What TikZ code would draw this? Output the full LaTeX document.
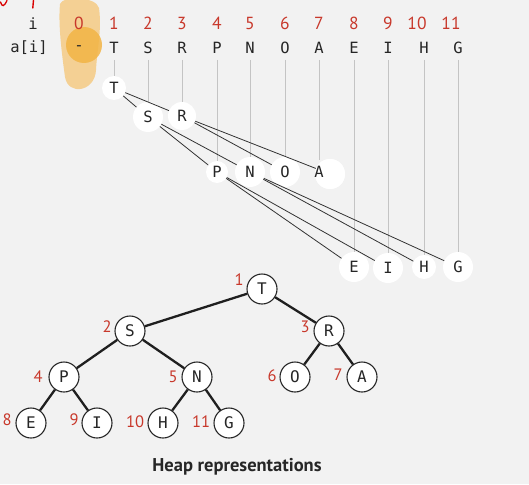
\documentclass[tikz,border=0pt]{standalone}
\usepackage{fontspec}
\setmainfont{PT Sans}
\setmonofont{DejaVu Sans Mono}
\newfontfamily\idxfont{PT Sans}
\definecolor{bg}{HTML}{F2F2F2}
\definecolor{idx}{HTML}{C8382B}
\definecolor{guide}{HTML}{C4C4C4}
\definecolor{link}{HTML}{333333}
\definecolor{hlA}{HTML}{F5CD8A}
\definecolor{hlB}{HTML}{F2B445}
\tikzset{
  mono/.style={font=\ttfamily\fontsize{15.5}{16}\selectfont, text=black!85, inner sep=0pt},
  idxtop/.style={font=\idxfont\fontsize{17.5}{18}\selectfont, text=idx, inner sep=0pt},
  wnode/.style={circle, fill=white, inner sep=0pt, font=\ttfamily\fontsize{15.5}{16}\selectfont, text=black!85},
  guideline/.style={draw=guide, line width=1pt},
  arrlink/.style={draw=link, line width=0.8pt},
  tnode/.style={circle, draw=black!85, line width=1.1pt, fill=white, minimum size=30pt, inner sep=0pt, font=\ttfamily\fontsize{16}{17}\selectfont, text=black!85},
  tlink/.style={draw=black!88, line width=2.3pt},
  tidx/.style={font=\idxfont\fontsize{16.5}{17}\selectfont, text=idx, inner sep=0pt}
}
\begin{document}
\begin{tikzpicture}[x=1pt,y=-1pt]
\fill[bg] (0,0) rectangle (529,484);
\useasboundingbox (0,0) rectangle (529,484);
% highlight annotation
\fill[hlA, opacity=0.9] (60,4) .. controls (62,-4) and (96,-4) .. (99,8)
  .. controls (102,30) and (97,50) .. (96,70)
  .. controls (95,92) and (68,96) .. (65,77)
  .. controls (62,55) and (58,25) .. (60,4) -- cycle;
\fill[hlB, opacity=0.85] (84,45) circle (18);
% red marks
\draw[red!85!black, line width=1.3pt, line cap=round] (0.5,2) .. controls (2,7) and (4,7) .. (7,0.5);
\draw[red!85!black, line width=1.4pt, line cap=round] (33.5,0) -- (32.8,8);
% header rows
\node[mono] (hi) at (33,24) {i};
\node[mono] (ha) at (29,48) {a[i]};
\foreach \k/\x/\lx/\c in {0/79/79/-,1/114/114/T,2/148/148/S,3/182/182/R,4/217/217/P,5/250/250/N,6/285/285/O,7/319/319/A,8/354/354/E,9/388/388/I,10/424/417/H,11/458/451/G}{
  \node[idxtop] (n\k) at (\lx,23) {\k};
  \node[mono] (c\k) at (\x,48) {\c};
  \coordinate (g\k) at (\x,60);
}
% upper tree nodes
\node[wnode, minimum size=24pt] (uT) at (114,88) {T};
\node[wnode, minimum size=30pt] (uS) at (148,117) {S};
\node[wnode, minimum size=28pt] (uR) at (182,116) {R};
\node[wnode, minimum size=22pt] (uP) at (217,172) {P};
\node[wnode, minimum size=30pt] (uN) at (250,172) {N};
\node[wnode, minimum size=30pt] (uO) at (285,172) {O};
\node[wnode, minimum size=30pt] (uAc) at (330,174) {};
\node[wnode, minimum size=30pt] (uE) at (354,267) {E};
\node[wnode, minimum size=30pt] (uI) at (388,268) {I};
\node[wnode, minimum size=24pt] (uH) at (424,267) {H};
\node[wnode, minimum size=30pt] (uG) at (458,267) {G};
% guides and links
\draw[guideline] (g1) -- (uT.north);
\draw[guideline] (g2) -- (uS.north);
\draw[guideline] (g3) -- (uR.north);
\draw[guideline] (g4) -- (uP.north);
\draw[guideline] (g5) -- (uN.north);
\draw[guideline] (g6) -- (uO.north);
\draw[guideline] (g7) -- (319,160);
\draw[guideline] (g8) -- (uE.north);
\draw[guideline] (g9) -- (uI.north);
\draw[guideline] (g10) -- (uH.north);
\draw[guideline] (g11) -- (uG.north);
\draw[arrlink] (uT) -- (uS);
\draw[arrlink] (uT) -- (uR);
\draw[arrlink] (uS) -- (uP);
\draw[arrlink] (uS) -- (uN);
\draw[arrlink] (uR) -- (uO);
\draw[arrlink] (uR) -- (uAc);
\draw[arrlink] (uP) -- (uE);
\draw[arrlink] (uP) -- (uI);
\draw[arrlink] (uN) -- (uH);
\draw[arrlink] (uN) -- (uG);
\node[wnode, minimum size=30pt] at (330,174) {};
\node[mono] (uA) at (319,172) {A};
% lower tree
\node[tnode] (T) at (262,289) {T};
\node[tnode] (S) at (130,331) {S};
\node[tnode] (R) at (329,331) {R};
\node[tnode] (P) at (64,377) {P};
\node[tnode] (N) at (197,377) {N};
\node[tnode] (O) at (295,377) {O};
\node[tnode] (A) at (362,377) {A};
\node[tnode] (E) at (31,423) {E};
\node[tnode] (I) at (97,423) {I};
\node[tnode] (H) at (163,423) {H};
\node[tnode] (G) at (229,423) {G};
\draw[tlink] (T) -- (S);
\draw[tlink] (T) -- (R);
\draw[tlink] (S) -- (P);
\draw[tlink] (S) -- (N);
\draw[tlink] (R) -- (O);
\draw[tlink] (R) -- (A);
\draw[tlink] (P) -- (E);
\draw[tlink] (P) -- (I);
\draw[tlink] (N) -- (H);
\draw[tlink] (N) -- (G);
\node[tidx] (l1) at (239,280) {1};
\node[tidx] (l2) at (107,327) {2};
\node[tidx] (l3) at (305,327) {3};
\node[tidx] (l4) at (38,377) {4};
\node[tidx] (l5) at (173,377) {5};
\node[tidx] (l6) at (272,376) {6};
\node[tidx] (l7) at (338,375) {7};
\node[tidx] (l8) at (7,420) {8};
\node[tidx] (l9) at (74,420) {9};
\node[tidx] (l10) at (135,422) {10};
\node[tidx] (l11) at (201,422) {11};
\node[font=\bfseries\fontsize{18.5}{19}\selectfont, text=black!85] (title) at (237,467) {Heap representations};
\end{tikzpicture}
\end{document}
